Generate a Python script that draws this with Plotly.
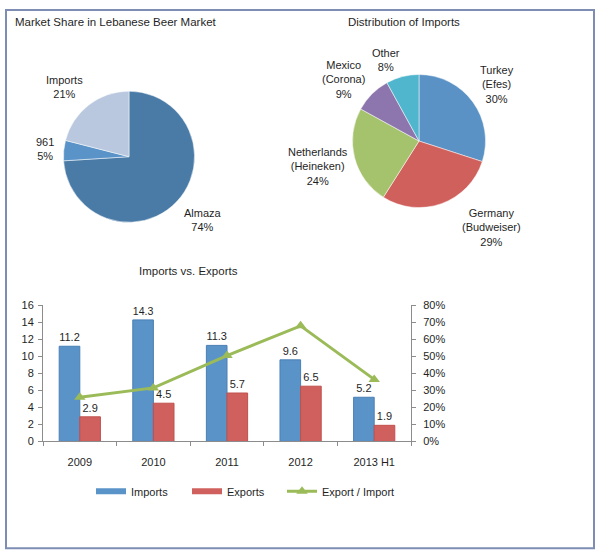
import plotly.graph_objects as go

W, H = 600, 560

# ---- data ----
share_labels = ["Almaza", "961", "Imports"]
share_values = [74, 5, 21]

import_labels = ["Turkey<br>(Efes)", "Germany<br>(Budweiser)", "Netherlands<br>(Heineken)",
                 "Mexico<br>(Corona)", "Other"]
import_values = [30, 29, 24, 9, 8]

years = ["2009", "2010", "2011", "2012", "2013 H1"]
imports = [11.2, 14.3, 11.3, 9.6, 5.2]
exports = [2.9, 4.5, 5.7, 6.5, 1.9]
ratio = [0.26, 0.315, 0.505, 0.68, 0.365]

# ---- styles / positions ----
share_colors = ["#4a7ba7", "#5a93c8", "#b9c8de"]
import_colors = ["#5a92c6", "#cf605c", "#a5c26c", "#8d76ad", "#4fb6cd"]
share_label_pos = [(203, 219), (45, 146), (64, 83)]
import_label_pos = [(497, 80), (491, 226), (318, 164), (343, 75), (386, 55)]
IMP_COLOR, EXP_COLOR, RATIO_COLOR = "#5a93c8", "#d0605d", "#9bbb59"

FONT = "Liberation Sans"
TXT = "#1f1f1f"


def px(x):
    return x / W


def py(y):
    return 1 - y / H


fig = go.Figure()

fig.add_trace(go.Pie(
    labels=share_labels, values=share_values, sort=False, direction="clockwise",
    rotation=0, marker=dict(colors=share_colors, line=dict(color="white", width=0.5)),
    textinfo="none", hoverinfo="label+percent", showlegend=False,
    domain=dict(x=[px(62), px(196)], y=[py(221), py(87)]),
))

fig.add_trace(go.Pie(
    labels=import_labels, values=import_values, sort=False, direction="clockwise",
    rotation=0, marker=dict(colors=import_colors, line=dict(color="white", width=0.5)),
    textinfo="none", hoverinfo="label+percent", showlegend=False,
    domain=dict(x=[px(351), px(487)], y=[py(206), py(70)]),
))

fig.add_trace(go.Bar(
    x=years, y=imports, name="Imports", marker=dict(color=IMP_COLOR, line=dict(color="#4a7fb5", width=1)),
    text=[f"{v}" for v in imports], textposition="outside", textfont=dict(size=11, color=TXT, family=FONT),
    cliponaxis=False, showlegend=False,
))
fig.add_trace(go.Bar(
    x=years, y=exports, name="Exports", marker=dict(color=EXP_COLOR, line=dict(color="#c0504d", width=1)),
    text=[f"{v}" for v in exports], textposition="outside", textfont=dict(size=11, color=TXT, family=FONT),
    cliponaxis=False, showlegend=False,
))
fig.add_trace(go.Scatter(
    x=years, y=ratio, name="Export / Import", yaxis="y2", mode="lines+markers",
    line=dict(color=RATIO_COLOR, width=3), marker=dict(symbol="triangle-up", size=10, color=RATIO_COLOR),
    cliponaxis=False, legend="legend3",
))
# legend swatches (wide flat rectangles like the original)
fig.add_trace(go.Scatter(x=[None], y=[None], mode="lines", name="Imports",
                         line=dict(color=IMP_COLOR, width=6), legend="legend", hoverinfo="skip"))
fig.add_trace(go.Scatter(x=[None], y=[None], mode="lines", name="Exports",
                         line=dict(color=EXP_COLOR, width=6), legend="legend2", hoverinfo="skip"))

annotations = []
total = sum(share_values)
for lab, v, (x, y) in zip(share_labels, share_values, share_label_pos):
    annotations.append(dict(x=px(x), y=py(y), xref="paper", yref="paper", showarrow=False,
                            xanchor="center", yanchor="middle",
                            text=f"{lab}<br>{round(100 * v / total)}%", align="center",
                            font=dict(size=11, color=TXT, family=FONT)))
total = sum(import_values)
for lab, v, (x, y) in zip(import_labels, import_values, import_label_pos):
    annotations.append(dict(x=px(x), y=py(y), xref="paper", yref="paper", showarrow=False,
                            xanchor="center", yanchor="middle",
                            text=f"{lab}<br>{round(100 * v / total)}%", align="center",
                            font=dict(size=11, color=TXT, family=FONT)))

annotations += [
    dict(x=px(13), y=py(16), xref="paper", yref="paper", xanchor="left", yanchor="middle", showarrow=False,
         text="Market Share in Lebanese Beer Market", font=dict(size=11.5, color=TXT, family=FONT)),
    dict(x=px(404), y=py(16), xref="paper", yref="paper", xanchor="center", yanchor="middle", showarrow=False,
         text="Distribution of Imports", font=dict(size=11.5, color=TXT, family=FONT)),
    dict(x=px(188), y=py(271), xref="paper", yref="paper", xanchor="center", yanchor="middle", showarrow=False,
         text="Imports vs. Exports", font=dict(size=11.5, color=TXT, family=FONT)),
]

axis_common = dict(showgrid=False, zeroline=False, showline=True, linecolor="#8c8c8c", linewidth=1,
                   ticks="outside", ticklen=4, tickcolor="#8c8c8c",
                   tickfont=dict(size=11, color=TXT, family=FONT))

legend_common = dict(orientation="h", yanchor="middle", xanchor="left", itemwidth=30,
                     font=dict(size=11, color=TXT, family=FONT), bgcolor="rgba(0,0,0,0)")

fig.update_layout(
    width=W, height=H, margin=dict(l=0, r=0, t=0, b=0),
    paper_bgcolor="white", plot_bgcolor="white",
    font=dict(family=FONT, size=11, color=TXT),
    barmode="group", bargap=0.44, bargroupgap=0.0,
    xaxis=dict(domain=[px(43), px(411)], tickson="boundaries", anchor="y", ticklabelstandoff=10, **axis_common),
    yaxis=dict(domain=[py(445), py(306)], range=[0, 16], dtick=2, anchor="x", ticklabelstandoff=2,
               **axis_common),
    yaxis2=dict(overlaying="y", side="right", range=[0, 0.8], dtick=0.1, tickformat=".0%",
                anchor="x", ticklabelstandoff=5, **axis_common),
    legend=dict(x=px(91), y=py(496), **legend_common),
    legend2=dict(x=px(187), y=py(496), **legend_common),
    legend3=dict(x=px(282), y=py(496), **legend_common),
    annotations=annotations,
    shapes=[dict(type="rect", xref="paper", yref="paper", x0=px(6), x1=px(594), y0=py(554), y1=py(4),
                 line=dict(color="#7d8db3", width=2), fillcolor="rgba(0,0,0,0)")],
)

fig.write_html("out.html", config={"displayModeBar": False},
               post_script="document.body.style.margin='0';document.body.style.overflow='hidden';")
